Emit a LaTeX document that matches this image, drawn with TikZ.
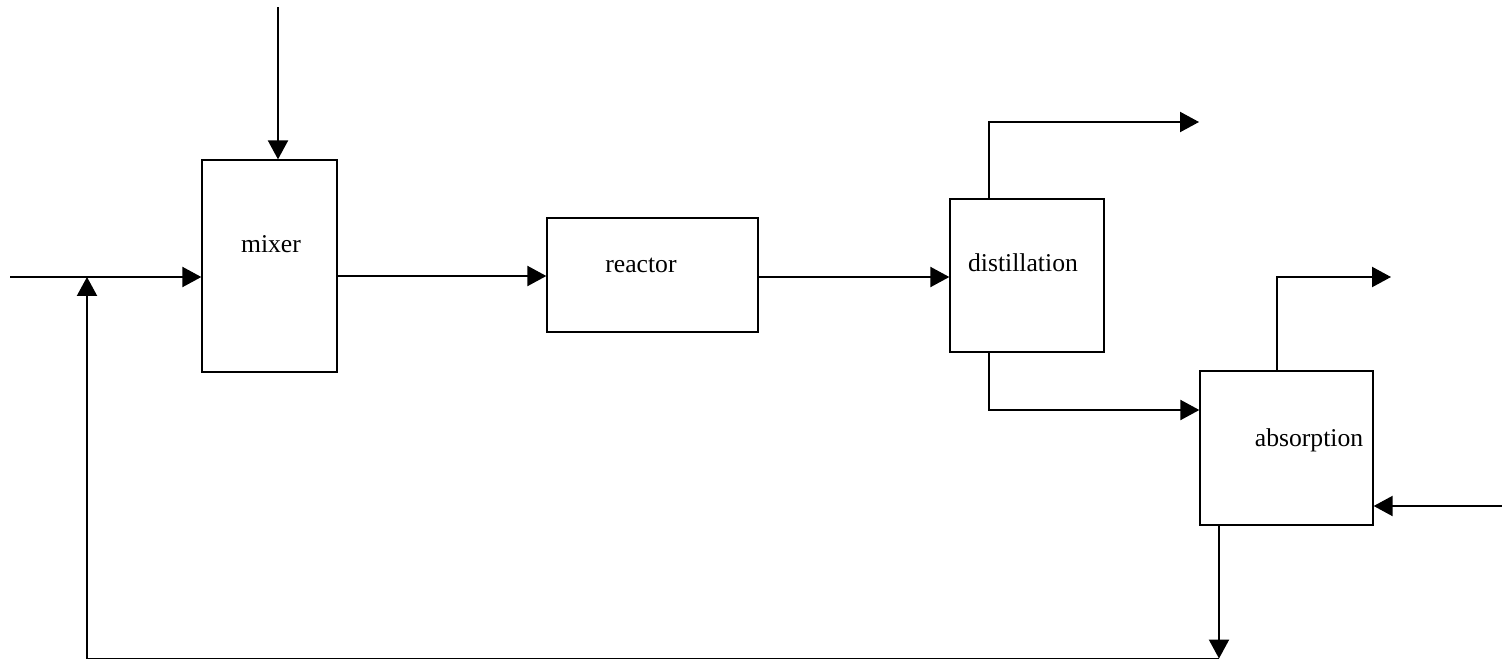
\documentclass[tikz,border=0pt]{standalone}
\usepackage{fontspec}
\setmainfont{Liberation Serif}
\usetikzlibrary{arrows.meta}
\begin{document}
\begin{tikzpicture}[x=0.02cm,y=-0.02cm,
  box/.style={draw,line width=0.8pt,inner sep=0pt,rectangle},
  lbl/.style={anchor=base,inner sep=0pt,font=\fontsize{14.6}{16}\selectfont},
  line/.style={line width=0.8pt},
  flow/.style={line width=0.8pt,-{Triangle[length=10.8pt,width=11.5pt]}}]
\useasboundingbox (0,0) rectangle (1502,660);
% boxes
\node[box,minimum width=2.7cm,minimum height=4.24cm] (mixer) at (269.5,266) {};
\node[box,minimum width=4.22cm,minimum height=2.28cm] (reactor) at (652.5,275) {};
\node[box,minimum width=3.08cm,minimum height=3.06cm] (dist) at (1027,275.5) {};
\node[box,minimum width=3.46cm,minimum height=3.08cm] (abs) at (1286.5,448) {};
% labels
\node[lbl] (tmixer) at (271,252) {mixer};
\node[lbl] (treactor) at (641,272) {reactor};
\node[lbl] (tdist) at (1023,271) {distillation};
\node[lbl] (tabs) at (1309,446) {absorption};
% coordinates
\coordinate (topin) at (278,7);
\coordinate (leftin) at (10,277);
\coordinate (d1) at (989,122);
\coordinate (dout) at (1199,122);
\coordinate (d2) at (989,410);
\coordinate (a1) at (1277,277);
\coordinate (aout) at (1391,277);
\coordinate (rightin) at (1502,506);
\coordinate (a2) at (1219,658.5);
\coordinate (r1) at (87,658.5);
\coordinate (r2) at (87,277);
% connectors
\draw[flow] (topin) -- (topin |- mixer.north);
\draw[flow] (leftin) -- (leftin -| mixer.west);
\draw[flow] (mixer.east |- 0,276) -- (reactor.west |- 0,276);
\draw[flow] (reactor.east |- 0,277) -- (dist.west |- 0,277);
\draw[flow] (d1 |- dist.north) -- (d1) -- (dout);
\draw[flow] (d1 |- dist.south) -- (d2) -- (d2 -| abs.west);
\draw[flow] (a1 |- abs.north) -- (a1) -- (aout);
\draw[flow] (rightin) -- (rightin -| abs.east);
\draw[flow] (a2 |- abs.south) -- (a2);
\draw[flow] (a2) -- (r1) -- (r2);
\end{tikzpicture}
\end{document}
